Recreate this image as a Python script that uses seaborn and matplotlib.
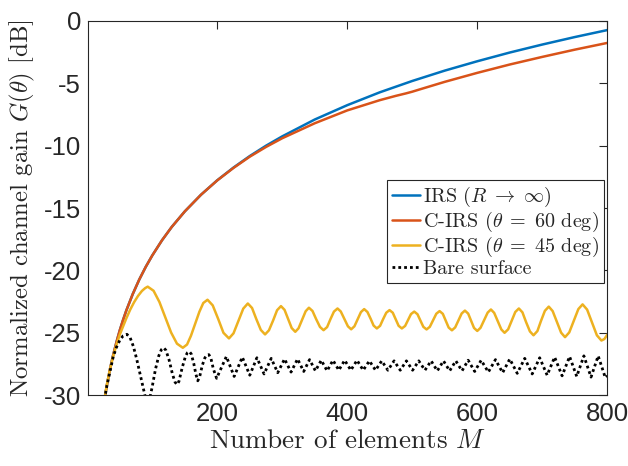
import matplotlib
matplotlib.use("Agg")
import matplotlib.pyplot as plt
import pandas as pd
import seaborn as sns

# ---- data: normalized channel gain (dB) versus number of elements M ----
m_irs = [25, 30, 35, 40, 45, 50, 55, 60, 70, 80, 90, 100, 115, 130, 150, 175, 200,
         225, 250, 275, 300, 350, 400, 450, 500, 550, 600, 650, 700, 750, 800]
g_irs = [-30.8, -29.25, -27.9, -26.75, -25.73, -24.8, -23.98, -23.22, -21.89, -20.73,
         -19.71, -18.8, -17.58, -16.51, -15.27, -13.93, -12.77, -11.75, -10.83, -10.0,
         -9.25, -7.9, -6.75, -5.72, -4.81, -3.98, -3.23, -2.53, -1.89, -1.29, -0.73]

m_c60 = [25, 30, 35, 40, 45, 50, 55, 60, 70, 80, 90, 100, 115, 130, 150, 175, 200,
         225, 250, 275, 300, 350, 400, 450, 475, 490, 500, 510, 550, 600, 650, 700, 750, 800]
g_c60 = [-30.8, -29.25, -27.9, -26.75, -25.73, -24.8, -23.98, -23.22, -21.89, -20.73,
         -19.71, -18.8, -17.58, -16.51, -15.27, -13.93, -12.78, -11.78, -10.88, -10.1,
         -9.4, -8.2, -7.17, -6.35, -6.0, -5.81, -5.67, -5.51, -4.88, -4.16, -3.49, -2.88,
         -2.3, -1.76]

m_c45 = [25, 30, 35, 40, 45, 50, 55, 60, 66, 72, 78, 84, 89, 93,
         102, 111, 120, 129, 138, 147,
         153.5, 159.5, 166, 172.5, 178.5, 185,
         193, 201.5, 209.5, 218,
         225, 232.5, 240, 247,
         253.5, 260, 267, 273.5,
         279.5, 286, 292, 298,
         303.5, 309, 314.5, 320,
         325, 330.5, 336, 341,
         346.5, 352, 358, 363.5,
         369, 374, 379.5, 385,
         390, 395.5, 401, 406,
         411, 416, 421, 426,
         431, 436, 440.5, 445.5,
         450.5, 455, 460, 465,
         470, 474.5, 479, 484,
         489, 493.5, 498, 503,
         508, 512.5, 517, 522,
         527, 532, 537, 542,
         547, 551.5, 556, 561,
         566, 571, 576, 581,
         586, 590.5, 595, 600,
         605, 610.5, 616, 621,
         626, 631.5, 637, 642,
         647.5, 653, 658.5, 664,
         669.5, 675, 681, 686.5,
         692.5, 698, 704, 710,
         716, 722.5, 729, 735,
         741.5, 748.5, 755.5, 762,
         769, 776.5, 784, 791,
         795.5, 800]
g_c45 = [-30.8, -29.2, -27.9, -26.85, -25.95, -25.15, -24.5, -23.85, -23.15, -22.55,
         -22.05, -21.65, -21.42, -21.3,
         -21.63, -22.53, -23.75, -24.98, -25.87, -26.2,
         -25.94, -25.24, -24.28, -23.31, -22.61, -22.35,
         -22.8, -23.9, -25.0, -25.45,
         -25.04, -24.05, -23.06, -22.65,
         -23.01, -23.89, -24.77, -25.13,
         -24.8, -24.0, -23.19, -22.86,
         -23.16, -23.89, -24.62, -24.92,
         -24.64, -23.96, -23.27, -22.99,
         -23.25, -23.89, -24.53, -24.79,
         -24.54, -23.92, -23.30, -23.05,
         -23.29, -23.89, -24.48, -24.72,
         -24.48, -23.91, -23.34, -23.1,
         -23.33, -23.88, -24.42, -24.65,
         -24.44, -23.92, -23.39, -23.18,
         -23.39, -23.92, -24.44, -24.65,
         -24.45, -23.98, -23.50, -23.3,
         -23.51, -24.02, -24.52, -24.73,
         -24.52, -24.0, -23.47, -23.26,
         -23.48, -24.03, -24.58, -24.8,
         -24.57, -24.01, -23.45, -23.22,
         -23.46, -24.04, -24.61, -24.85,
         -24.6, -23.99, -23.38, -23.13,
         -23.4, -24.07, -24.73, -25.0,
         -24.72, -24.03, -23.33, -23.05,
         -23.36, -24.13, -24.89, -25.2,
         -24.86, -24.05, -23.24, -22.9,
         -23.26, -24.13, -24.99, -25.35,
         -24.97, -24.04, -23.1, -22.72,
         -23.14, -24.17, -25.2, -25.62,
         -25.5, -25.15]

m_bare = [25, 30, 35, 40, 45, 50, 55, 61, 66, 71, 76, 81, 86, 90, 93, 96, 100, 105,
          110, 114, 117.5, 121, 126, 131, 135, 138, 141, 146, 151, 154, 157, 160, 164,
          167, 170, 173, 177, 181, 184, 187, 190, 194, 199,
          214, 226, 238.5, 250, 261, 272, 283, 293, 303.5, 313.5, 323.5, 333, 342,
          351, 360, 369, 378, 387, 396, 405.5, 415, 424.5, 434, 443.5, 453, 462.5,
          472, 481.5, 491, 500.5, 510, 519.5, 529, 538.5, 548, 557.5, 567, 576.5,
          586, 596, 606, 617, 628, 639, 650, 661.5, 673, 684.5, 696, 707.5, 719,
          730.5, 742, 753, 764, 775, 786, 797, 800]
g_bare = [-30.8, -29.3, -28.1, -26.9, -26.15, -25.6, -25.25, -25.12, -25.4, -26.1,
          -27.1, -28.25, -29.4, -30.3, -30.7, -30.3, -29.3, -27.9, -26.85, -26.35,
          -26.2, -26.4, -27.2, -28.3, -28.95, -29.15, -28.9, -27.8, -26.9, -26.6,
          -26.5, -26.7, -27.5, -28.3, -28.85, -28.5, -27.6, -27.0, -26.8, -26.75,
          -27.0, -27.9, -28.65,
          -26.9, -28.5, -26.95, -28.4, -27.0, -28.3, -27.05, -28.2, -27.1, -28.15,
          -27.1, -28.1, -27.15, -28.05, -27.2, -28.05, -27.2, -28.0, -27.2, -28.0,
          -27.2, -28.0, -27.25, -28.0, -27.25, -28.0, -27.25, -28.0, -27.25, -28.0,
          -27.25, -28.0, -27.25, -28.05, -27.25, -28.05, -27.25, -28.05, -27.2,
          -28.1, -27.2, -28.15, -27.15, -28.2, -27.1, -28.25, -27.05, -28.3, -27.0,
          -28.4, -26.95, -28.45, -26.9, -28.5, -26.85, -28.55, -26.85, -28.6, -28.45]

series_labels = [r"IRS ($R\;\rightarrow\;\infty$)",
                 r"C-IRS ($\theta\;=\;60$ deg)",
                 r"C-IRS ($\theta\;=\;45$ deg)",
                 "Bare surface"]
series_colors = ["#0072BD", "#D95319", "#EDB120", "#000000"]
x_ticks = [200, 400, 600, 800]
y_ticks = [0, -5, -10, -15, -20, -25, -30]

sns.set_style("white")
plt.rcParams["mathtext.fontset"] = "cm"
plt.rcParams["axes.unicode_minus"] = False
plt.rcParams["font.family"] = ["Liberation Sans", "DejaVu Sans"]

serif = ["cmr10", "DejaVu Serif"]
axis_grey = "#262626"

fig = plt.figure(figsize=(6.28, 4.66), dpi=100)
ax = fig.add_axes([0.140, 0.152, 0.827, 0.803])

frames = [
    pd.DataFrame({"M": m_irs, "gain": g_irs}),
    pd.DataFrame({"M": m_c60, "gain": g_c60}),
    pd.DataFrame({"M": m_c45, "gain": g_c45}),
    pd.DataFrame({"M": m_bare, "gain": g_bare}),
]
for i, (df, lab, col) in enumerate(zip(frames, series_labels, series_colors)):
    line_kw = dict(linewidth=1.8)
    if i == 3:
        line_kw["linewidth"] = 2.0
        line_kw["dashes"] = (1.0, 1.1)
    sns.lineplot(data=df, x="M", y="gain", ax=ax, color=col, label=lab,
                 sort=False, estimator=None, **line_kw)

ax.set_xlim(1, 800)
ax.set_ylim(-30, 0)
ax.set_xticks(x_ticks)
ax.set_yticks(y_ticks)
ax.set_xticklabels([str(v) for v in x_ticks])
ax.set_yticklabels([str(v) for v in y_ticks])
ax.tick_params(direction="in", length=6, width=0.8, top=True, right=True,
               colors=axis_grey, labelsize=18.5, pad=5)
for side in ax.spines.values():
    side.set_color(axis_grey)
    side.set_linewidth(0.8)

ax.set_xlabel(r"Number of elements $M$", fontsize=19.5, family=serif,
              color=axis_grey, labelpad=2)
ax.set_ylabel(r"Normalized channel gain $G(\theta)$ [dB]", fontsize=17.8,
              family=serif, color=axis_grey, labelpad=5)

leg = ax.legend(loc="lower right", bbox_to_anchor=(0.993, 0.2995),
                borderaxespad=0, prop={"family": serif, "size": 14.5},
                handlelength=1.35, handletextpad=0.15, borderpad=0.25,
                labelspacing=0.05, fancybox=False, framealpha=1)
leg.get_frame().set_edgecolor(axis_grey)
leg.get_frame().set_linewidth(0.8)

fig.savefig("out.png", dpi=100)
